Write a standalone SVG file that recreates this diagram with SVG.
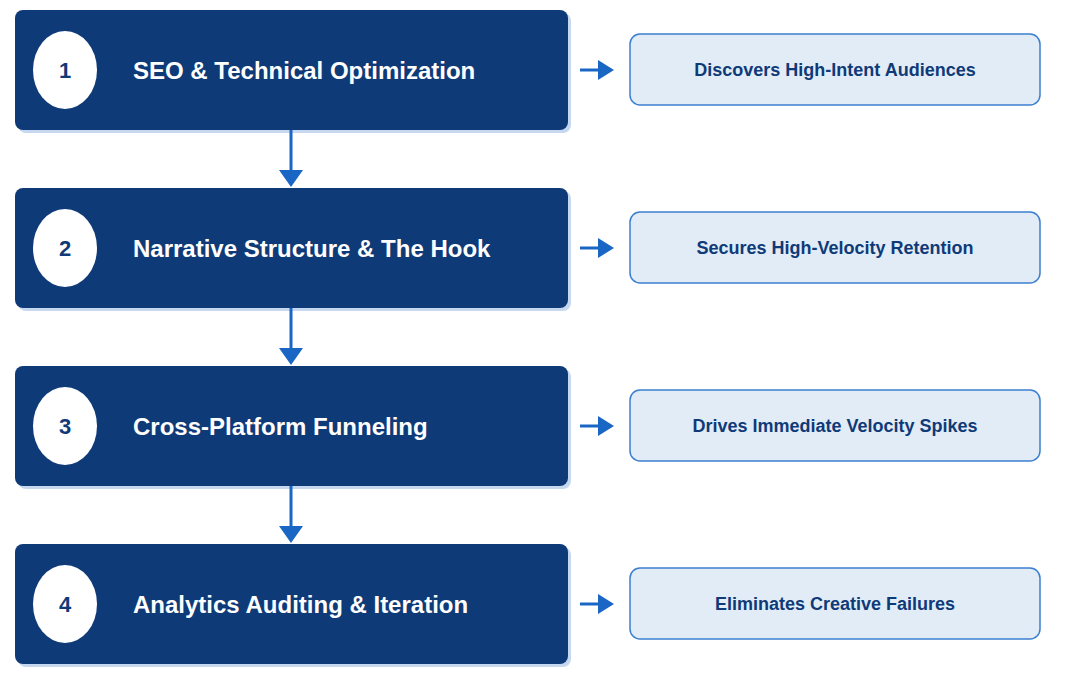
<svg xmlns="http://www.w3.org/2000/svg" width="1074" height="699" viewBox="0 0 1074 699">
<style>
.main{fill:#0f3a78;rx:8}
.shadow{fill:#c6d8ef}
.num{fill:#fff}
.nt{font:bold 22px "Liberation Sans",Arial,sans-serif;fill:#0f3a78;text-anchor:middle}
.tt{font:bold 24px "Liberation Sans",Arial,sans-serif;fill:#fff}
.out{fill:#e2ecf7;stroke:#3b7fd0;stroke-width:1.5}
.ot{font:bold 18px "Liberation Sans",Arial,sans-serif;fill:#0f3a78;text-anchor:middle}
.c{stroke:#1a66c4;stroke-width:3;fill:none}
.h{fill:#1a66c4}
</style>
<rect width="1074" height="699" fill="#fff"/>
<g id="node1"><rect class="shadow" x="18" y="13" width="553" height="120" rx="8"/><rect class="main" x="15" y="10" width="553" height="120" rx="8"/><ellipse class="num" cx="65" cy="70" rx="32" ry="39"/><text class="nt" x="65" y="78">1</text><text class="tt" x="133" y="79">SEO &amp; Technical Optimization</text></g>
<g id="node2"><rect class="shadow" x="18" y="191" width="553" height="120" rx="8"/><rect class="main" x="15" y="188" width="553" height="120" rx="8"/><ellipse class="num" cx="65" cy="248" rx="32" ry="39"/><text class="nt" x="65" y="256">2</text><text class="tt" x="133" y="257">Narrative Structure &amp; The Hook</text></g>
<g id="node3"><rect class="shadow" x="18" y="369" width="553" height="120" rx="8"/><rect class="main" x="15" y="366" width="553" height="120" rx="8"/><ellipse class="num" cx="65" cy="426" rx="32" ry="39"/><text class="nt" x="65" y="434">3</text><text class="tt" x="133" y="435">Cross-Platform Funneling</text></g>
<g id="node4"><rect class="shadow" x="18" y="547" width="553" height="120" rx="8"/><rect class="main" x="15" y="544" width="553" height="120" rx="8"/><ellipse class="num" cx="65" cy="604" rx="32" ry="39"/><text class="nt" x="65" y="612">4</text><text class="tt" x="133" y="613">Analytics Auditing &amp; Iteration</text></g>
<g id="out1"><rect class="out" x="630" y="34" width="410" height="71" rx="10"/><text class="ot" x="835" y="76">Discovers High-Intent Audiences</text></g>
<g id="out2"><rect class="out" x="630" y="212" width="410" height="71" rx="10"/><text class="ot" x="835" y="254">Secures High-Velocity Retention</text></g>
<g id="out3"><rect class="out" x="630" y="390" width="410" height="71" rx="10"/><text class="ot" x="835" y="432">Drives Immediate Velocity Spikes</text></g>
<g id="out4"><rect class="out" x="630" y="568" width="410" height="71" rx="10"/><text class="ot" x="835" y="610">Eliminates Creative Failures</text></g>
<g id="connectors">
<path class="c" d="M291 130V172M291 308V350M291 486V528"/>
<path class="h" d="M279 170H303L291 187ZM279 348H303L291 365ZM279 526H303L291 543Z"/>
<path class="c" d="M580 70H600M580 248H600M580 426H600M580 604H600"/>
<path class="h" d="M598 60L614 70L598 80ZM598 238L614 248L598 258ZM598 416L614 426L598 436ZM598 594L614 604L598 614Z"/>
</g>
</svg>
